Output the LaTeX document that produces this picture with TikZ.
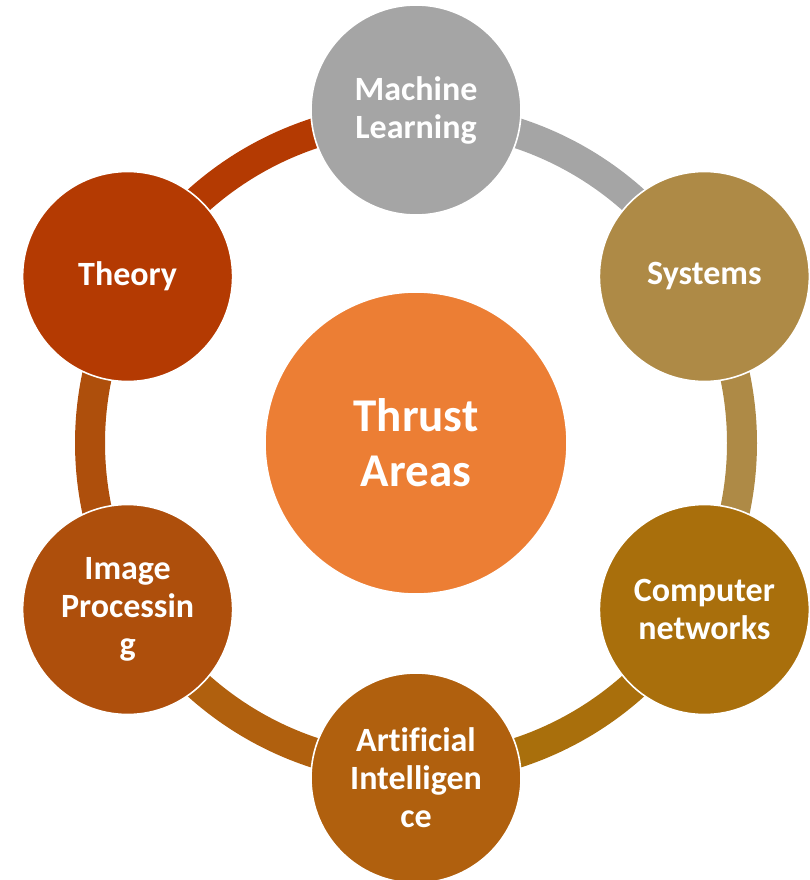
\documentclass[tikz,border=0pt]{standalone}
\usepackage{fontspec}
\setmainfont{Carlito}[Ligatures={NoCommon}]
\usetikzlibrary{calc}
\definecolor{cML}{HTML}{A5A5A5}
\definecolor{cSys}{HTML}{AE8A46}
\definecolor{cCN}{HTML}{A96F0C}
\definecolor{cAI}{HTML}{B0600E}
\definecolor{cIP}{HTML}{AE4F0C}
\definecolor{cTh}{HTML}{B43A02}
\definecolor{cCenter}{HTML}{EC7E34}
\begin{document}
\begin{tikzpicture}[x=1pt,y=-1pt,
  topic/.style={circle, minimum size=210pt, inner sep=0pt, draw=white, line width=1.6pt,
    text=white, align=center, font=\bfseries\fontsize{34}{38}\selectfont},
  hub/.style={circle, minimum size=302pt, inner sep=0pt, draw=white, line width=1.6pt,
    fill=cCenter, text=white, align=center, font=\bfseries\fontsize{47}{55}\selectfont},
  ringseg/.style={line width=30pt}]
\useasboundingbox (0,0) rectangle (809,880);
\coordinate (c) at (416,443);
% ring segments (y axis points down, so angles are mirrored)
\draw[ringseg, cTh]  (c) ++(-90:326)  arc[start angle=-90,  end angle=-150, radius=326];
\draw[ringseg, cML]  (c) ++(-90:326)  arc[start angle=-90,  end angle=-30,  radius=326];
\draw[ringseg, cSys] (c) ++(-30:326)  arc[start angle=-30,  end angle=30,   radius=326];
\draw[ringseg, cCN]  (c) ++(30:326)   arc[start angle=30,   end angle=90,   radius=326];
\draw[ringseg, cAI]  (c) ++(90:326)   arc[start angle=90,   end angle=150,  radius=326];
\draw[ringseg, cIP]  (c) ++(150:326)  arc[start angle=150,  end angle=210,  radius=326];
% nodes
\node[hub] (hub) at (c) {Thrust\\Areas};
\node[topic, fill=cML]  (ml)  at ($(c)+(-90:333)$) {Machine\\Learning};
\node[topic, fill=cSys] (sys) at ($(c)+(-30:333)$) {Systems};
\node[topic, fill=cCN]  (cn)  at ($(c)+(30:333)$)  {Computer\\networks};
\node[topic, fill=cAI]  (ai)  at ($(c)+(90:335)$)  {Artificial\\Intelligen\\ce};
\node[topic, fill=cIP]  (ip)  at ($(c)+(150:333)$) {Image\\Processin\\g};
\node[topic, fill=cTh]  (th)  at ($(c)+(210:333)$) {Theory};
\end{tikzpicture}
\end{document}
